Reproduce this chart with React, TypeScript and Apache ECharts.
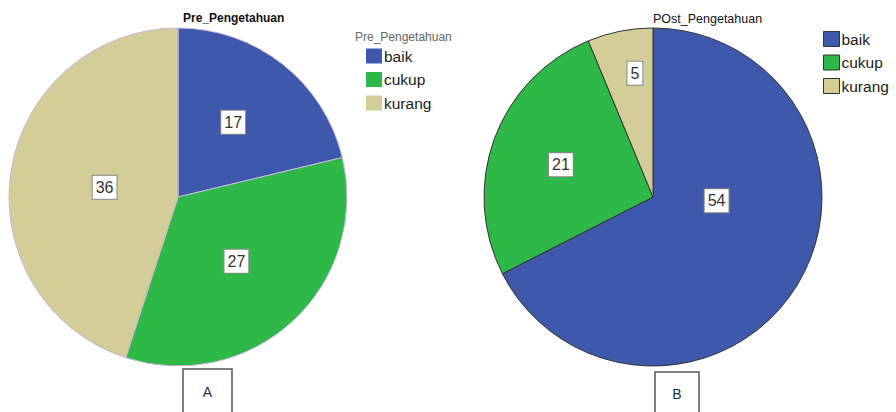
import React, { useEffect, useRef } from "react";
import * as echarts from "echarts";

const categories = ["baik", "cukup", "kurang"];
const preValues = [17, 27, 36];
const postValues = [54, 21, 5];
const preTitle = "Pre_Pengetahuan";
const postTitle = "POst_Pengetahuan";
const panelLetters = ["A", "B"];

const COLORS = ["#3E58AC", "#2EB848", "#D3CE97"];
// label nudges (layout only) per series, per slice
const LABEL_NUDGE = [
  [[1, -6], [-1, 0], [13, 4]],
  [[-11, -42], [-10, -2], [-1, -38]],
];

export default function App() {
  const ref = useRef<HTMLDivElement>(null);
  useEffect(() => {
    document.body.style.margin = "0";
    const chart = echarts.init(ref.current!, null, { renderer: "svg" });
    const font = "Arial, 'Liberation Sans', sans-serif";
    const label = {
      show: true,
      position: "inside",
      formatter: "{c}",
      color: "#333",
      fontSize: 16,
      fontFamily: font,
      backgroundColor: "#fff",
      borderColor: "#888",
      borderWidth: 1,
      padding: [4, 3, 3, 3],
    };
    const legendBase = {
      orient: "vertical",
      icon: "rect",
      itemWidth: 16,
      itemHeight: 15,
      itemGap: 7.5,
      selectedMode: false,
      data: categories,
      textStyle: { fontSize: 15.5, color: "#222", fontFamily: font, padding: [0, 0, 0, -3] },
    };
    const nudge = (s: number) => (p: any) => {
      const n = LABEL_NUDGE[s][p.dataIndex] || [0, 0];
      return { dx: n[0], dy: n[1] };
    };
    chart.setOption({
      animation: false,
      color: COLORS,
      title: [
        { text: preTitle, left: 183, top: 12, textStyle: { fontSize: 12, fontWeight: "bold", color: "#111", fontFamily: font }, padding: 0 },
        { text: postTitle, left: 653, top: 12, textStyle: { fontSize: 12.5, fontWeight: "normal", color: "#111", fontFamily: font }, padding: 0 },
        { text: preTitle, left: 355, top: 31, textStyle: { fontSize: 12, fontWeight: "normal", color: "#666", fontFamily: font }, padding: 0 },
      ],
      legend: [
        { ...legendBase, left: 366, top: 48, padding: 0, itemStyle: { borderWidth: 0 } },
        { ...legendBase, left: 823, top: 31, padding: 0, itemStyle: { borderColor: "#333", borderWidth: 1 } },
      ],
      series: [
        {
          type: "pie",
          center: [178, 197],
          radius: 169,
          startAngle: 90,
          clockwise: true,
          label,
          labelLine: { show: false },
          labelLayout: nudge(0),
          itemStyle: { borderColor: "#c6b6dc", borderWidth: 1 },
          emphasis: { disabled: true },
          data: categories.map((name, i) => ({ name, value: preValues[i] })),
        },
        {
          type: "pie",
          center: [653, 197],
          radius: 169,
          startAngle: 90,
          clockwise: true,
          label,
          labelLine: { show: false },
          labelLayout: nudge(1),
          itemStyle: { borderColor: "#333", borderWidth: 1 },
          emphasis: { disabled: true },
          data: categories.map((name, i) => ({ name, value: postValues[i] })),
        },
      ],
      graphic: [
        { type: "rect", shape: { x: 183, y: 369, width: 49, height: 45 }, style: { fill: "#fff", stroke: "#555", lineWidth: 1.5 } },
        { type: "text", x: 207.5, y: 392, style: { text: panelLetters[0], fontSize: 14, fill: "#1f2a44", fontFamily: font, align: "center", verticalAlign: "middle" } },
        { type: "rect", shape: { x: 655, y: 372, width: 44, height: 45 }, style: { fill: "#fff", stroke: "#555", lineWidth: 1.5 } },
        { type: "text", x: 677, y: 394, style: { text: panelLetters[1], fontSize: 14, fill: "#1f2a44", fontFamily: font, align: "center", verticalAlign: "middle" } },
      ],
    });
    return () => chart.dispose();
  }, []);
  return <div ref={ref} style={{ position: "absolute", left: 0, top: 0, width: 896, height: 412 }} />;
}
